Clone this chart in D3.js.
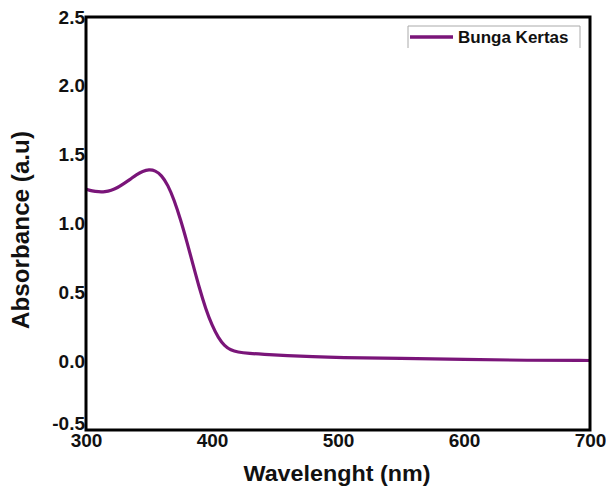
<!DOCTYPE html>
<html><head><meta charset="utf-8">
<script src="https://cdn.jsdelivr.net/npm/d3@7"></script>
<style>body{margin:0;background:#fff}svg{display:block}text{font-family:"Liberation Sans",Arial,sans-serif;font-weight:bold;fill:#111}</style>
</head><body><svg id="c" width="606" height="490"></svg>
<script>
const wavelengths = [300,305,310,315,320,325,330,335,340,345,350,355,360,365,370,375,380,385,390,395,400,405,410,415,420,430,440,460,480,500,550,600,650,700];
const absorbance  = [1.25,1.235,1.23,1.23,1.24,1.26,1.29,1.32,1.355,1.38,1.392,1.385,1.35,1.28,1.17,1.03,0.87,0.70,0.53,0.38,0.26,0.17,0.11,0.08,0.066,0.056,0.05,0.04,0.032,0.026,0.02,0.012,0.006,0.005];
const xTicks = [300,400,500,600,700];
const yTicks = [-0.5,0.0,0.5,1.0,1.5,2.0,2.5];
const seriesName = "Bunga Kertas";
const xTitle = "Wavelenght (nm)";
const yTitle = "Absorbance (a.u)";

const svg = d3.select("#c");
const m = {l:86, r:590, t:17, b:430};
const x = d3.scaleLinear().domain([300,700]).range([m.l,m.r]);
const y = d3.scaleLinear().domain([-0.5,2.5]).range([m.b,m.t]);
const color = "#7a1579";

// curve
const data = wavelengths.map((w,i)=>({w, a:absorbance[i]}));
svg.append("path").datum(data)
  .attr("fill","none").attr("stroke",color).attr("stroke-width",3.2)
  .attr("stroke-linejoin","round")
  .attr("d", d3.line().x(d=>x(d.w)).y(d=>y(d.a)).curve(d3.curveBasis));

// axes (no tick marks)
const xAxis = svg.append("g").attr("transform",`translate(0,${m.b})`)
  .call(d3.axisBottom(x).tickValues(xTicks).tickSize(0).tickPadding(3).tickFormat(d3.format("d")));
xAxis.select(".domain").remove();
xAxis.selectAll("text").attr("font-size",19).attr("dy","0.72em").attr("fill","#111")
  .style("font-family",'"Liberation Sans",Arial,sans-serif').style("font-weight","bold");

const yAxis = svg.append("g").attr("transform",`translate(${m.l},0)`)
  .call(d3.axisLeft(y).tickValues(yTicks).tickSize(0).tickPadding(1)
    .tickFormat(d => d3.format(".1f")(d).replace("\u2212","-")));
yAxis.select(".domain").remove();
yAxis.selectAll("text").attr("font-size",19).attr("fill","#111")
  .style("font-family",'"Liberation Sans",Arial,sans-serif').style("font-weight","bold");
yAxis.selectAll(".tick").filter(d => d === -0.5).select("text").attr("dy","-0.05em");

// frame
svg.append("rect").attr("x",m.l).attr("y",m.t).attr("width",m.r-m.l).attr("height",m.b-m.t)
  .attr("fill","none").attr("stroke","#000").attr("stroke-width",3);

// titles
svg.append("text").attr("x",337).attr("y",481).attr("text-anchor","middle")
  .attr("font-size",22).attr("textLength",187).attr("lengthAdjust","spacingAndGlyphs").text(xTitle);
svg.append("text").attr("transform",`translate(29,230) rotate(-90)`)
  .attr("text-anchor","middle").attr("font-size",23).attr("textLength",198).attr("lengthAdjust","spacingAndGlyphs").text(yTitle);

// legend
const lg = svg.append("g");
lg.append("path").attr("d","M408,48 V26 H580 V48").attr("fill","none").attr("stroke","#aaa").attr("stroke-width",1);
lg.append("line").attr("x1",410).attr("x2",453).attr("y1",37).attr("y2",37).attr("stroke",color).attr("stroke-width",3.5);
lg.append("text").attr("x",458).attr("y",43).attr("font-size",17).text(seriesName);
</script></body></html>
